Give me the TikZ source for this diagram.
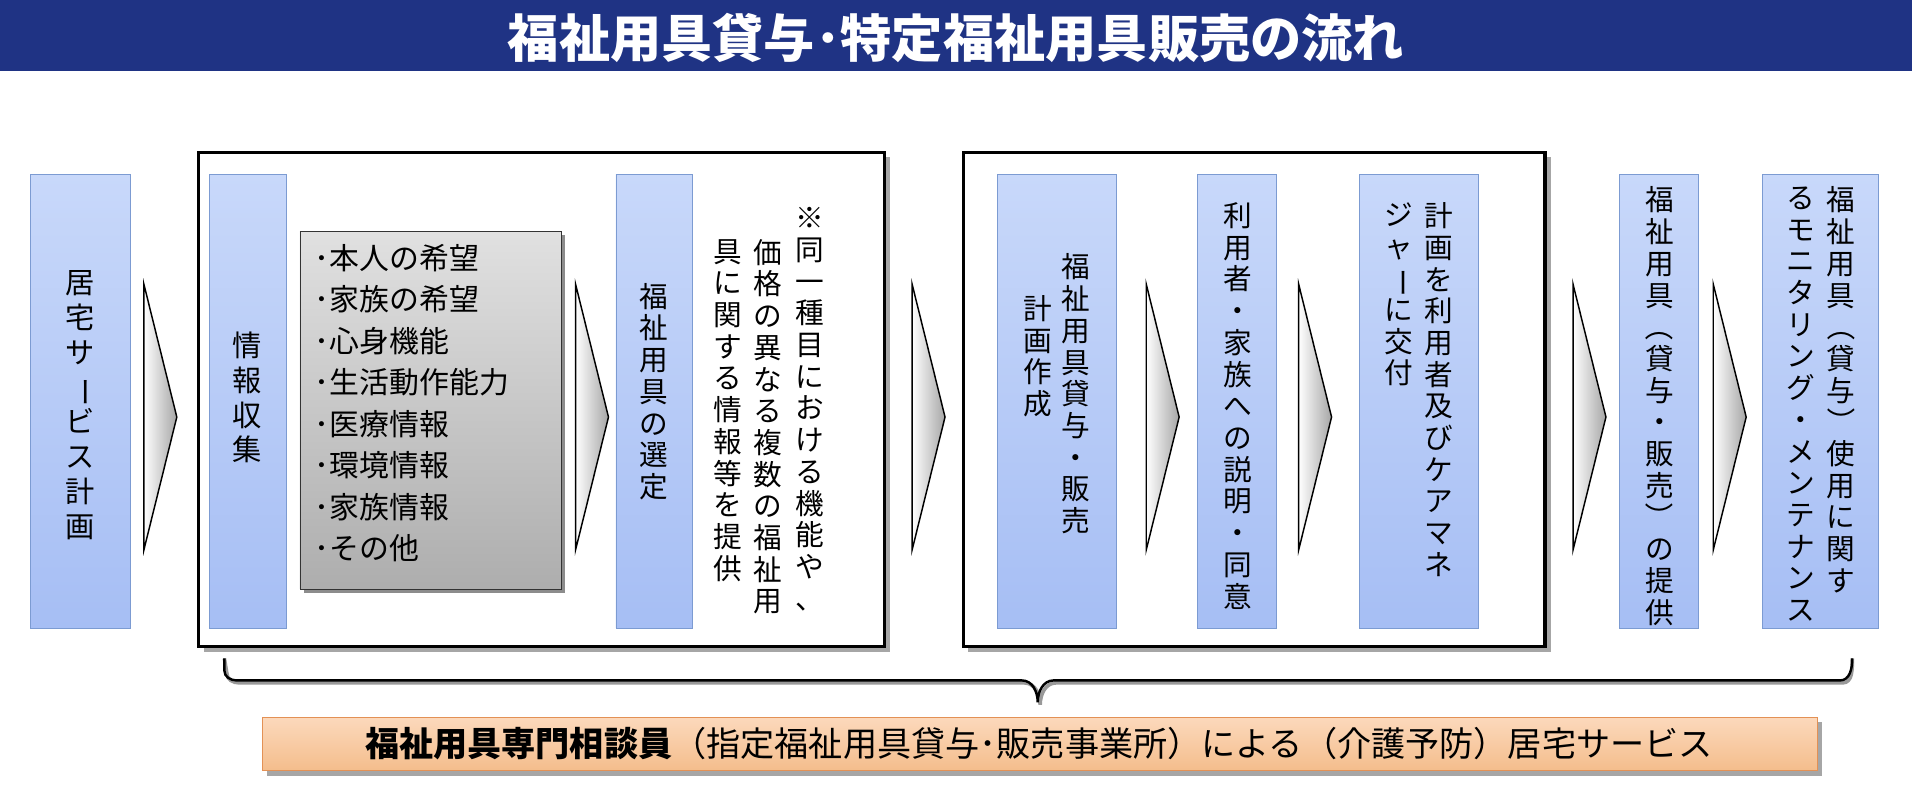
\documentclass[tikz,border=0pt]{standalone}
\usepackage{fontspec}
\newfontfamily\jp{Noto Sans CJK JP}
\usetikzlibrary{positioning}
\definecolor{titleblue}{HTML}{1F3384}
\definecolor{boxtop}{HTML}{C8D8FA}
\definecolor{boxbot}{HTML}{A6BEF4}
\definecolor{boxline}{HTML}{7C9BD2}
\definecolor{orgtop}{HTML}{FCD9BC}
\definecolor{orgbot}{HTML}{F4BD8C}
\definecolor{orgline}{HTML}{E39155}
\newcommand{\rt}[1]{\rotatebox[origin=c]{-90}{#1}}
\tikzset{
  stepbox/.style={draw=boxline, top color=boxtop, bottom color=boxbot},
  vtext/.style={anchor=north, inner sep=0pt, align=center, font=\jp\fontsize{23.5}{26}\selectfont},
  chevron/.style={draw=black, line width=1.2pt, left color=white, right color=black!35},
  frame/.style={draw=black, line width=2.5pt, fill=white},
  shadowbox/.style={fill=black!35, draw=none}
}
\begin{document}
\begin{tikzpicture}[x=1pt,y=-1pt]
  \useasboundingbox (0,0) rectangle (1568,651);
  % title bar
  \fill[titleblue] (0,0) rectangle (1568,58);
  \node[font=\jp\bfseries\fontsize{42}{46}\selectfont, text=white] (title) at (784,31) {福祉用具貸与･特定福祉用具販売の流れ};

  % outer frames
  \fill[shadowbox] (167,129) rectangle (730,535);
  \draw[frame] (163,125) rectangle (725,530);
  \fill[shadowbox] (794,129) rectangle (1272,535);
  \draw[frame] (790,125) rectangle (1267,530);

  % steps
  \draw[stepbox] (25,143) rectangle (107,515);
  \node[vtext, font=\jp\fontsize{24}{28.5}\selectfont] (plan) at (66,222) {居\\宅\\サ\\\rt{ー}\\ビ\\ス\\計\\画};

  \draw[stepbox] (172,143) rectangle (235,515);
  \node[vtext, font=\jp\fontsize{24}{28.5}\selectfont] (info) at (203,272) {情\\報\\収\\集};

  \fill[black!45] (249,193) rectangle (463,486);
  \draw[black!80, top color=black!12, bottom color=black!32] (246,190) rectangle (460,483);
  \node[anchor=north west, inner sep=0pt, align=left, font=\jp\fontsize{24.5}{34}\selectfont] (items) at (258,200)
    {･本人の希望\\･家族の希望\\･心身機能\\･生活動作能力\\･医療情報\\･環境情報\\･家族情報\\･その他};

  \draw[stepbox] (505,143) rectangle (568,515);
  \node[vtext] (select) at (536,232) {福\\祉\\用\\具\\の\\選\\定};

  \node[vtext] (note1) at (664,170) {※\\同\\一\\種\\目\\に\\お\\け\\る\\機\\能\\や\\、};
  \node[vtext] (note2) at (630,196) {価\\格\\の\\異\\な\\る\\複\\数\\の\\福\\祉\\用};
  \node[vtext] (note3) at (597,196) {具\\に\\関\\す\\る\\情\\報\\等\\を\\提\\供};

  \draw[stepbox] (818,143) rectangle (915,515);
  \node[vtext] (make1) at (882,208) {福\\祉\\用\\具\\貸\\与\\・\\販\\売};
  \node[vtext] (make2) at (851,242) {計\\画\\作\\成};

  \draw[stepbox] (982,143) rectangle (1047,515);
  \node[vtext] (agree) at (1015,166) {利\\用\\者\\・\\家\\族\\へ\\の\\説\\明\\・\\同\\意};

  \draw[stepbox] (1115,143) rectangle (1212,515);
  \node[vtext] (give1) at (1180,166) {計\\画\\を\\利\\用\\者\\及\\び\\ケ\\ア\\マ\\ネ};
  \node[vtext] (give2) at (1147,166) {ジ\\ャ\\\rt{ー}\\に\\交\\付};

  \draw[stepbox] (1328,143) rectangle (1393,515);
  \node[vtext] (supply) at (1361,153) {福\\祉\\用\\具\\\rt{（}\\貸\\与\\・\\販\\売\\\rt{）}\\の\\提\\供};

  \draw[stepbox] (1445,143) rectangle (1540,515);
  \node[vtext] (mon1) at (1510,153) {福\\祉\\用\\具\\\rt{（}\\貸\\与\\\rt{）}\\使\\用\\に\\関\\す};
  \node[vtext] (mon2) at (1477,153) {る\\モ\\ニ\\タ\\リ\\ン\\グ\\・\\メ\\ン\\テ\\ナ\\ン\\ス};

  % chevrons
  \foreach \cx in {118,472,748,940,1065,1290,1405}
    \draw[chevron] (\cx,233) -- (\cx+27,342) -- (\cx,451) -- cycle;

  % brace
  \coordinate (bl) at (184,540);
  \coordinate (bm) at (851,576);
  \coordinate (br) at (1519,540);
  \draw[black!40, line width=3pt, xshift=2pt, yshift=-2pt]
    (bl) -- (184,550) to[out=-90,in=180] (194,558) -- (838,558) to[out=0,in=90] (851,576)
    (851,576) to[out=90,in=180] (864,558) -- (1509,558) to[out=0,in=-90] (br);
  \draw[black, line width=2pt]
    (bl) -- (184,550) to[out=-90,in=180] (194,558) -- (838,558) to[out=0,in=90] (bm)
    (bm) to[out=90,in=180] (864,558) -- (1509,558) to[out=0,in=-90] (br);

  % provider bar
  \fill[black!35] (219,592) rectangle (1494,636);
  \draw[draw=orgline, top color=orgtop, bottom color=orgbot] (215,588) rectangle (1490,632);
  \node[font=\jp\fontsize{28}{32}\selectfont] (provider) at (852,610)
    {{\bfseries 福祉用具専門相談員}（指定福祉用具貸与･販売事業所）による（介護予防）居宅サービス};
\end{tikzpicture}
\end{document}
